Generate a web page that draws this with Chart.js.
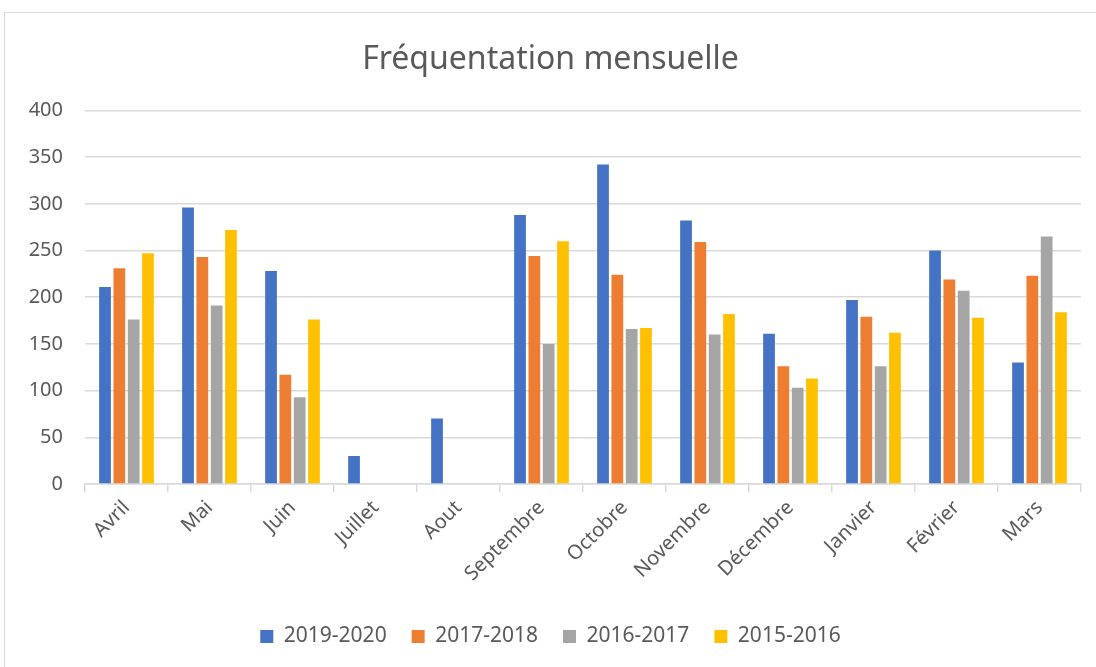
<!DOCTYPE html>
<html>
<head>
<meta charset="utf-8">
<script src="https://cdn.jsdelivr.net/npm/chart.js@4.4.1/dist/chart.umd.min.js"></script>
<style>
  html, body { margin: 0; padding: 0; background: #fff; overflow: hidden; }
  #frame { position: absolute; left: 4px; top: 12px; width: 1100px; height: 670px; border: 1px solid #d9d9d9; box-sizing: border-box; }
  #wrap { position: absolute; left: 0; top: 0; width: 1096px; height: 667px; }
</style>
</head>
<body>
<div id="frame"></div>
<div id="wrap"><canvas id="chart" width="1096" height="667"></canvas></div>
<script>
// Fréquentation mensuelle
const MONTHS = ['Avril', 'Mai', 'Juin', 'Juillet', 'Aout', 'Septembre', 'Octobre',
                'Novembre', 'Décembre', 'Janvier', 'Février', 'Mars'];

const S_2019_2020 = [211, 296, 228, 30, 70, 288, 342, 282, 161, 197, 250, 130];
const S_2017_2018 = [231, 243, 117, null, null, 244, 224, 259, 126, 179, 219, 223];
const S_2016_2017 = [176, 191, 93, null, null, 150, 166, 160, 103, 126, 207, 265];
const S_2015_2016 = [247, 272, 176, null, null, 260, 167, 182, 113, 162, 178, 184];

const Y_TICKS = [0, 50, 100, 150, 200, 250, 300, 350, 400];

const SERIES = [
  { label: '2019-2020', data: S_2019_2020, color: '#4472c4' },
  { label: '2017-2018', data: S_2017_2018, color: '#ed7d31' },
  { label: '2016-2017', data: S_2016_2017, color: '#a5a5a5' },
  { label: '2015-2016', data: S_2015_2016, color: '#ffc000' },
];

Chart.defaults.font.family = "'Noto Sans', 'Open Sans', sans-serif";
Chart.defaults.color = '#595959';

new Chart(document.getElementById('chart'), {
  type: 'bar',
  data: {
    labels: MONTHS,
    datasets: SERIES.map(s => ({
      label: s.label,
      data: s.data,
      backgroundColor: s.color,
      borderWidth: 0,
      categoryPercentage: 0.69,
      barPercentage: 0.82,
    })),
  },
  options: {
    responsive: false,
    animation: false,
    layout: { padding: { left: 20, right: 15, top: 41, bottom: 10 } },
    scales: {
      x: {
        afterFit: axis => { axis.height = 117; },
        grid: { display: true, offset: true, drawOnChartArea: false, drawTicks: true, tickLength: 8, color: '#d9d9d9', lineWidth: 1.5 },
        border: { color: '#d9d9d9', width: 1.5 },
        ticks: { minRotation: 45, maxRotation: 45, font: { size: 20 }, color: '#595959', padding: 4 },
      },
      y: {
        min: 0, max: 400,
        afterBuildTicks: axis => { axis.ticks = Y_TICKS.map(v => ({ value: v })); },
        afterFit: axis => { axis.width = 65; },
        grid: { color: '#d9d9d9', lineWidth: 1.5, drawTicks: false },
        border: { display: false },
        ticks: { font: { size: 20 }, color: '#595959', padding: 22 },
      },
    },
    plugins: {
      title: {
        display: true,
        text: 'Fréquentation mensuelle',
        font: { size: 32, weight: 'normal' },
        color: '#595959',
        padding: { top: 0, bottom: 31 },
      },
      legend: {
        position: 'bottom',
        labels: { boxWidth: 13, boxHeight: 13, font: { size: 21 }, color: '#595959', padding: 25 },
      },
      tooltip: { enabled: false },
    },
  },
});
</script>
</body>
</html>
